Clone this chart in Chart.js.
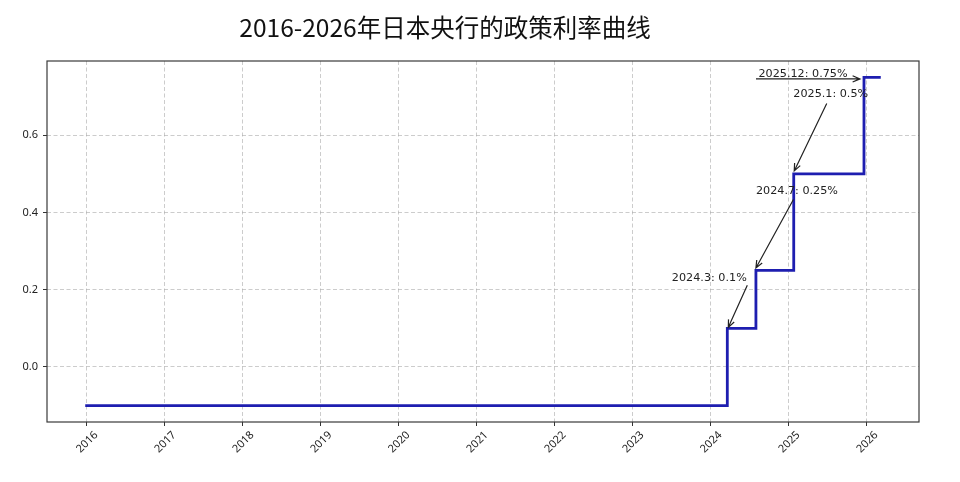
<!DOCTYPE html>
<html>
<head>
<meta charset="utf-8">
<script src="https://cdn.jsdelivr.net/npm/chart.js@4.4.1/dist/chart.umd.min.js"></script>
<style>
html,body{margin:0;padding:0;background:#fff;}
#wrap{width:960px;height:482px;position:relative;}
</style>
</head>
<body>
<div id="wrap"><canvas id="c"></canvas></div>
<script>
// ---- data ----
const chartTitle = '2016-2026年日本央行的政策利率曲线';
const rateDates = ['2016-01-01', '2024-03-19', '2024-07-31', '2025-01-24', '2025-12-19', '2026-03-01'];
const rateValues = [-0.1, 0.1, 0.25, 0.5, 0.75, 0.75];
const yearTicks = [2016, 2017, 2018, 2019, 2020, 2021, 2022, 2023, 2024, 2025, 2026];
const yTickValues = [0.0, 0.2, 0.4, 0.6];
const noteLabels = ['2024.3: 0.1%', '2024.7: 0.25%', '2025.1: 0.5%', '2025.12: 0.75%'];
const noteDates = ['2024-03-19', '2024-07-31', '2025-01-24', '2025-12-19'];
const noteValues = [0.1, 0.25, 0.5, 0.75];

// ---- layout (pixel offsets of annotation text / arrows from their data point) ----
const noteLayout = [
  {tx: -18, ty: -51, sx: 20, sy: -43, ex: 1, ey: -1},
  {tx: 41, ty: -80, sx: 37.5, sy: -71, ex: 0, ey: -2.5},
  {tx: 37, ty: -81, sx: 33, sy: -70.5, ex: 0.5, ey: -3},
  {tx: -61, ty: -4, sx: -108, sy: 1.5, ex: -4, ey: 1.5}
];

const xs = rateDates.map(d => Date.parse(d));
const xSpan = xs[xs.length - 1] - xs[0];
const xMin = xs[0] - 0.05 * xSpan, xMax = xs[xs.length - 1] + 0.05 * xSpan;
const yLo = Math.min(...rateValues), yHi = Math.max(...rateValues);
const ySpan = yHi - yLo;
const yMin = yLo - 0.05 * ySpan, yMax = yHi + 0.05 * ySpan;

const points = xs.map((x, i) => ({x: x, y: rateValues[i]}));

const gridColor = 'rgba(170,170,170,0.75)';
const tickFont = '"Noto Sans", "DejaVu Sans", sans-serif';

const decor = {
  id: 'decor',
  afterDraw(chart) {
    const {ctx, chartArea: a, scales: {x, y}} = chart;
    ctx.save();
    // frame
    ctx.strokeStyle = '#3a3a3a';
    ctx.lineWidth = 1.2;
    ctx.strokeRect(a.left, a.top, a.right - a.left, a.bottom - a.top);

    // title
    ctx.fillStyle = '#111';
    ctx.font = '24.5px "Noto Sans CJK SC", sans-serif';
    ctx.textAlign = 'center';
    ctx.textBaseline = 'alphabetic';
    ctx.fillText(chartTitle, 445, 37);

    // x tick labels (rotated 45°, centred under the tick)
    ctx.font = '11px ' + tickFont;
    ctx.fillStyle = '#222';
    yearTicks.forEach(yr => {
      const px = x.getPixelForValue(Date.UTC(yr, 0, 1));
      ctx.save();
      ctx.translate(px, 441.5);
      ctx.rotate(-Math.PI / 4);
      ctx.textAlign = 'center';
      ctx.textBaseline = 'alphabetic';
      ctx.fillText(String(yr), 0, 4);
      ctx.restore();
    });

    // annotations
    ctx.font = '11.2px "DejaVu Sans", sans-serif';
    noteLabels.forEach((label, i) => {
      const px = x.getPixelForValue(Date.parse(noteDates[i]));
      const py = y.getPixelForValue(noteValues[i]);
      const L = noteLayout[i];
      ctx.fillStyle = '#222';
      ctx.textAlign = 'center';
      ctx.textBaseline = 'alphabetic';
      ctx.fillText(label, px + L.tx, py + L.ty + 4);
      const sx = px + L.sx, sy = py + L.sy, ex = px + L.ex, ey = py + L.ey;
      ctx.strokeStyle = '#222';
      ctx.lineWidth = 1.2;
      ctx.beginPath();
      ctx.moveTo(sx, sy);
      ctx.lineTo(ex, ey);
      const ang = Math.atan2(ey - sy, ex - sx);
      const hl = 8, hw = 0.4;
      ctx.moveTo(ex - hl * Math.cos(ang - hw), ey - hl * Math.sin(ang - hw));
      ctx.lineTo(ex, ey);
      ctx.lineTo(ex - hl * Math.cos(ang + hw), ey - hl * Math.sin(ang + hw));
      ctx.stroke();
    });
    ctx.restore();
  }
};

new Chart(document.getElementById('c'), {
  type: 'line',
  data: {
    datasets: [{
      data: points,
      stepped: true,
      borderColor: '#1e1eb0',
      borderWidth: 2.8,
      borderCapStyle: 'square',
      pointRadius: 0,
      fill: false
    }]
  },
  options: {
    responsive: true,
    maintainAspectRatio: false,
    devicePixelRatio: 1,
    animation: false,
    events: [],
    layout: {padding: {top: 61, right: 41, bottom: 0, left: 0}},
    plugins: {legend: {display: false}, title: {display: false}, tooltip: {enabled: false}},
    scales: {
      x: {
        type: 'linear',
        min: xMin,
        max: xMax,
        afterBuildTicks: s => { s.ticks = yearTicks.map(yr => ({value: Date.UTC(yr, 0, 1)})); },
        afterFit: s => { s.height = 60; },
        ticks: {display: false},
        grid: {color: gridColor, lineWidth: 0.8, drawTicks: true, tickLength: 4, tickColor: '#333', tickWidth: 1},
        border: {display: false, dash: [4, 2.5]}
      },
      y: {
        type: 'linear',
        min: yMin,
        max: yMax,
        afterBuildTicks: s => { s.ticks = yTickValues.map(v => ({value: v})); },
        afterFit: s => { s.width = 47; },
        ticks: {
          callback: v => Number(v).toFixed(1),
          color: '#222',
          padding: 5,
          font: {family: tickFont, size: 11}
        },
        grid: {color: gridColor, lineWidth: 0.8, drawTicks: true, tickLength: 4, tickColor: '#333', tickWidth: 1},
        border: {display: false, dash: [4, 2.5]}
      }
    }
  },
  plugins: [decor]
});
</script>
</body>
</html>
